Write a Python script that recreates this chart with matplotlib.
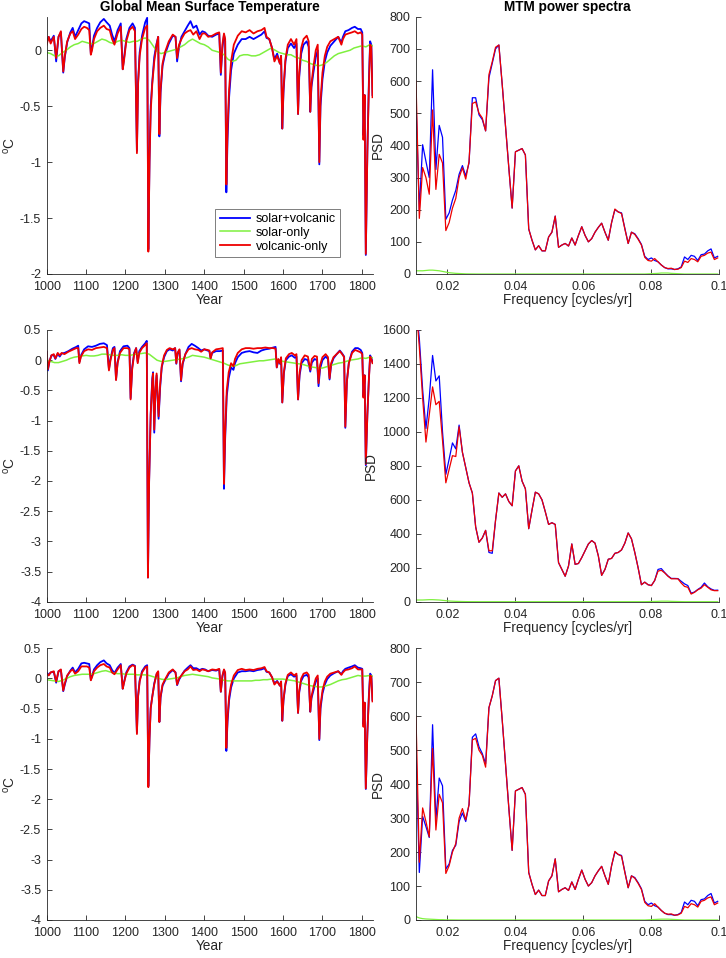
import numpy as np
import matplotlib
matplotlib.use("Agg")
import matplotlib.pyplot as plt
from matplotlib.ticker import FormatStrFormatter, MultipleLocator

plt.rcParams["font.family"] = ["Liberation Sans", "DejaVu Sans"]
plt.rcParams["axes.unicode_minus"] = False
plt.rcParams["mathtext.fontset"] = "custom"
plt.rcParams["mathtext.rm"] = "Liberation Sans"

C_BLUE = "#0000ff"
C_GREEN = "#7ff03f"
C_RED = "#ee0000"
C_AX = "#262626"

# ---------------- time series (deg C) ----------------
# years shared by rows 1 and 3 (red/blue)
yrs_a = [1000, 1005, 1010, 1018, 1024, 1030, 1036, 1042, 1046, 1052, 1060, 1066, 1072, 1080,
         1088, 1095, 1102, 1108, 1112, 1115, 1120, 1128, 1136, 1145, 1152, 1160, 1166, 1172,
         1180, 1188, 1193, 1196, 1202, 1210, 1218, 1224, 1229, 1232, 1236, 1242, 1250, 1255,
         1258, 1261, 1264, 1268, 1273, 1279, 1283, 1286, 1289, 1294, 1300, 1310, 1320, 1327,
         1331, 1336, 1342, 1350, 1358, 1365, 1372, 1380, 1388, 1395, 1402, 1410, 1420, 1430,
         1438, 1442, 1446, 1450, 1453, 1456, 1459, 1463, 1468, 1475, 1485, 1495, 1505, 1515,
         1525, 1535, 1545, 1553, 1558, 1565, 1572, 1578, 1585, 1592, 1595, 1598, 1601, 1606,
         1612, 1620, 1628, 1634, 1638, 1641, 1646, 1652, 1660, 1665, 1669, 1672, 1677, 1683,
         1688, 1692, 1695, 1700, 1706, 1712, 1720, 1730, 1740, 1748, 1752, 1758, 1766, 1775,
         1782, 1790, 1797, 1801, 1804, 1807, 1810, 1814, 1818, 1821, 1824, 1827]

red1 = [0.05, 0.12, 0.06, 0.12, -0.07, 0.12, 0.17, -0.19, -0.05, 0.08, 0.15, 0.17, 0.10, 0.14,
        0.19, 0.21, 0.20, 0.18, -0.04, 0.00, 0.10, 0.17, 0.20, 0.22, 0.19, 0.18, 0.10, 0.05,
        0.15, 0.21, -0.17, -0.10, 0.08, 0.18, 0.21, 0.17, -0.92, -0.30, -0.05, 0.10, 0.20, 0.22,
        -1.80, -1.00, -0.55, -0.30, -0.10, 0.05, 0.12, -0.75, -0.35, -0.12, -0.02, 0.08, 0.14, 0.12,
        -0.07, 0.05, 0.10, 0.15, 0.17, 0.18, 0.14, 0.17, 0.10, 0.15, 0.15, 0.12, 0.13, 0.15,
        0.16, -0.20, 0.05, 0.15, 0.10, -1.20, -0.70, -0.35, -0.10, 0.05, 0.13, 0.17, 0.16, 0.18,
        0.15, 0.17, 0.18, 0.20, 0.12, 0.10, 0.02, -0.10, -0.05, -0.12, -0.05, -0.70, -0.35, -0.08,
        0.05, 0.10, 0.05, 0.10, -0.57, -0.20, 0.02, 0.10, 0.13, 0.08, -0.55, -0.30, -0.15, 0.00,
        0.05, -1.00, -0.45, -0.20, -0.05, 0.03, 0.08, 0.10, 0.12, 0.05, 0.10, 0.14, 0.15, 0.16,
        0.17, 0.15, 0.16, 0.14, -0.80, -0.40, -1.82, -0.90, -0.30, 0.05, 0.03, -0.42]

blue1 = [0.07, 0.12, 0.08, 0.13, -0.10, 0.12, 0.16, -0.20, -0.06, 0.07, 0.16, 0.20, 0.12, 0.18,
         0.24, 0.26, 0.25, 0.24, -0.03, 0.02, 0.13, 0.20, 0.25, 0.28, 0.25, 0.22, 0.14, 0.08,
         0.18, 0.24, -0.17, -0.08, 0.10, 0.20, 0.24, 0.20, -0.90, -0.28, -0.02, 0.13, 0.25, 0.29,
         -1.78, -0.98, -0.50, -0.28, -0.06, 0.06, 0.12, -0.77, -0.38, -0.14, -0.04, 0.06, 0.13, 0.12,
         -0.10, 0.03, 0.12, 0.17, 0.22, 0.26, 0.20, 0.22, 0.14, 0.17, 0.16, 0.13, 0.12, 0.14,
         0.15, -0.22, 0.02, 0.14, 0.08, -1.27, -0.80, -0.42, -0.18, -0.03, 0.05, 0.10, 0.10, 0.12,
         0.10, 0.12, 0.14, 0.17, 0.11, 0.10, 0.02, -0.08, -0.03, -0.12, -0.05, -0.70, -0.38, -0.10,
         0.02, 0.06, 0.02, 0.06, -0.57, -0.24, -0.03, 0.05, 0.08, 0.03, -0.55, -0.33, -0.20, -0.06,
         0.00, -1.02, -0.50, -0.26, -0.10, -0.02, 0.04, 0.08, 0.12, 0.07, 0.12, 0.17, 0.18, 0.20,
         0.21, 0.19, 0.19, 0.16, -0.76, -0.40, -1.83, -0.90, -0.25, 0.08, 0.05, -0.40]

red3 = [0.08, 0.05, 0.10, 0.12, -0.05, 0.12, 0.15, -0.20, -0.08, 0.05, 0.12, 0.15, 0.08, 0.12,
        0.20, 0.20, 0.20, 0.18, -0.03, 0.02, 0.12, 0.18, 0.22, 0.24, 0.20, 0.18, 0.10, 0.07,
        0.15, 0.22, -0.17, -0.08, 0.08, 0.18, 0.22, 0.20, -0.92, -0.30, -0.05, 0.10, 0.18, 0.20,
        -1.80, -1.00, -0.50, -0.30, -0.10, 0.08, 0.12, -0.72, -0.30, -0.10, -0.02, 0.10, 0.15, 0.10,
        -0.10, 0.00, 0.05, 0.12, 0.15, 0.20, 0.14, 0.15, 0.12, 0.15, 0.14, 0.12, 0.15, 0.14,
        0.16, -0.22, 0.05, 0.15, 0.10, -1.15, -0.65, -0.30, -0.10, 0.05, 0.14, 0.16, 0.14, 0.15,
        0.14, 0.16, 0.17, 0.19, 0.12, 0.10, 0.02, -0.10, -0.05, -0.12, -0.05, -0.70, -0.35, -0.08,
        0.06, 0.10, 0.05, 0.08, -0.57, -0.20, 0.00, 0.08, 0.10, 0.06, -0.55, -0.30, -0.15, 0.00,
        0.05, -1.00, -0.45, -0.20, -0.05, 0.03, 0.08, 0.10, 0.12, 0.06, 0.10, 0.14, 0.15, 0.17,
        0.20, 0.15, 0.15, 0.15, -0.80, -0.40, -1.82, -0.90, -0.30, 0.05, 0.03, -0.38]

blue3 = [0.10, 0.06, 0.10, 0.11, -0.07, 0.12, 0.14, -0.21, -0.10, 0.04, 0.13, 0.18, 0.10, 0.16,
         0.25, 0.26, 0.25, 0.24, -0.02, 0.04, 0.15, 0.22, 0.27, 0.30, 0.25, 0.22, 0.14, 0.09,
         0.18, 0.24, -0.17, -0.07, 0.10, 0.20, 0.23, 0.21, -0.90, -0.28, -0.03, 0.12, 0.20, 0.22,
         -1.78, -0.98, -0.48, -0.30, -0.08, 0.07, 0.11, -0.72, -0.32, -0.12, -0.04, 0.08, 0.14, 0.10,
         -0.11, -0.02, 0.05, 0.13, 0.18, 0.22, 0.17, 0.17, 0.14, 0.16, 0.15, 0.12, 0.14, 0.13,
         0.15, -0.22, 0.03, 0.14, 0.08, -1.20, -0.72, -0.36, -0.15, 0.00, 0.10, 0.12, 0.12, 0.13,
         0.12, 0.14, 0.15, 0.17, 0.11, 0.10, 0.02, -0.08, -0.04, -0.12, -0.05, -0.70, -0.37, -0.10,
         0.04, 0.07, 0.03, 0.05, -0.57, -0.23, -0.04, 0.04, 0.06, 0.02, -0.55, -0.33, -0.20, -0.05,
         0.00, -1.02, -0.50, -0.25, -0.10, -0.01, 0.05, 0.09, 0.12, 0.07, 0.12, 0.16, 0.18, 0.20,
         0.22, 0.18, 0.17, 0.16, -0.76, -0.40, -1.83, -0.90, -0.25, 0.08, 0.05, -0.36]

yrs_b = [1000, 1003, 1007, 1012, 1018, 1022, 1028, 1033, 1038, 1045, 1055, 1065, 1075, 1080,
         1083, 1087, 1095, 1105, 1115, 1125, 1135, 1145, 1153, 1158, 1162, 1168, 1172, 1176,
         1180, 1186, 1195, 1205, 1210, 1213, 1217, 1222, 1227, 1231, 1235, 1242, 1250, 1254,
         1257, 1260, 1264, 1268, 1270, 1273, 1276, 1279, 1284, 1288, 1292, 1298, 1305, 1312,
         1320, 1326, 1329, 1332, 1337, 1341, 1345, 1352, 1360, 1368, 1376, 1385, 1392, 1400,
         1408, 1413, 1416, 1420, 1430, 1440, 1447, 1450, 1453, 1457, 1462, 1468, 1474, 1478,
         1485, 1495, 1505, 1515, 1525, 1535, 1545, 1555, 1565, 1575, 1581, 1584, 1588, 1592,
         1595, 1598, 1602, 1607, 1615, 1622, 1630, 1634, 1638, 1642, 1647, 1655, 1663, 1669,
         1673, 1680, 1686, 1690, 1694, 1700, 1708, 1714, 1718, 1722, 1728, 1736, 1744, 1750,
         1755, 1758, 1762, 1767, 1775, 1783, 1790, 1797, 1801, 1804, 1807, 1810, 1814, 1818,
         1821, 1824, 1827]

red2 = [0.14, -0.15, -0.02, 0.08, 0.10, 0.03, 0.12, 0.08, 0.12, 0.10, 0.14, 0.17, 0.20, 0.20,
        -0.05, 0.06, 0.15, 0.18, 0.17, 0.20, 0.21, 0.22, 0.20, -0.17, 0.00, 0.17, 0.20, -0.33,
        -0.05, 0.12, 0.20, 0.20, 0.18, -0.65, -0.15, 0.10, 0.20, -0.05, 0.12, 0.20, 0.25, 0.28,
        -3.60, -2.00, -0.90, -0.35, -0.22, -1.15, -0.50, -0.22, -0.93, -0.40, -0.10, 0.08, 0.17, 0.20,
        0.18, 0.20, -0.05, 0.12, 0.18, -0.33, -0.05, 0.10, 0.18, 0.20, 0.18, 0.17, 0.14, 0.18,
        0.17, 0.16, 0.03, 0.13, 0.18, 0.19, 0.20, -2.05, -1.20, -0.50, -0.20, -0.05, -0.10, 0.02,
        0.12, 0.18, 0.20, 0.20, 0.19, 0.20, 0.20, 0.21, 0.20, 0.20, 0.19, -0.12, 0.02, -0.05,
        0.05, -0.70, -0.20, 0.03, 0.10, 0.12, 0.08, 0.10, -0.65, -0.20, 0.00, 0.08, 0.06, -0.16,
        0.02, 0.07, 0.06, -0.38, -0.08, 0.05, 0.10, 0.05, -0.30, -0.05, 0.05, 0.10, 0.15, 0.10,
        0.05, -1.10, -0.35, -0.05, 0.12, 0.17, 0.15, 0.13, 0.10, -0.62, -0.25, -1.72, -0.90, -0.30,
        0.06, 0.02, -0.05]

blue2 = [0.14, -0.17, -0.02, 0.08, 0.08, 0.02, 0.11, 0.06, 0.11, 0.12, 0.15, 0.19, 0.22, 0.24,
         -0.03, 0.08, 0.18, 0.23, 0.22, 0.24, 0.27, 0.28, 0.25, -0.15, 0.03, 0.20, 0.22, -0.32,
         -0.03, 0.15, 0.23, 0.24, 0.20, -0.63, -0.12, 0.12, 0.20, -0.03, 0.15, 0.22, 0.28, 0.32,
         -3.60, -2.00, -0.88, -0.30, -0.20, -1.20, -0.52, -0.25, -0.97, -0.45, -0.12, 0.05, 0.15, 0.18,
         0.16, 0.20, -0.06, 0.10, 0.17, -0.35, -0.07, 0.10, 0.22, 0.27, 0.24, 0.20, 0.16, 0.18,
         0.16, 0.15, 0.03, 0.12, 0.15, 0.15, 0.16, -2.13, -1.30, -0.60, -0.30, -0.12, -0.16, -0.05,
         0.05, 0.12, 0.14, 0.15, 0.13, 0.12, 0.16, 0.18, 0.19, 0.21, 0.22, -0.12, 0.00, -0.06,
         0.04, -0.70, -0.22, 0.00, 0.06, 0.08, 0.04, 0.06, -0.65, -0.25, -0.05, 0.02, 0.00, -0.19,
         -0.04, 0.02, 0.00, -0.43, -0.14, 0.00, 0.06, 0.02, -0.32, -0.08, 0.03, 0.10, 0.16, 0.11,
         0.06, -1.12, -0.35, -0.04, 0.14, 0.20, 0.20, 0.17, 0.12, -0.60, -0.25, -1.74, -0.90, -0.28,
         0.08, 0.04, -0.03]

# solar-only, every 10 years from 1000 to 1820, then 1827
yrs_g = list(range(1000, 1830, 10)) + [1827]
green1 = [-0.02, -0.03, -0.05, -0.05, -0.02, 0.00, 0.03, 0.05, 0.06, 0.08, 0.07, 0.06, 0.06, 0.08,
          0.10, 0.09, 0.07, 0.06, 0.08, 0.09, 0.08, 0.07, 0.08, 0.08, 0.10, 0.11, 0.09, 0.04,
          -0.01, -0.03, -0.02, -0.01, 0.00, 0.01, 0.03, 0.05, 0.08, 0.10, 0.08, 0.06, 0.05, 0.03,
          0.00, -0.01, -0.02, -0.04, -0.08, -0.10, -0.09, -0.05, -0.04, -0.04, -0.05, -0.05, -0.04, -0.02,
          0.00, 0.02, 0.00, -0.02, -0.03, -0.04, -0.04, -0.06, -0.07, -0.09, -0.10, -0.12, -0.13, -0.14,
          -0.13, -0.11, -0.08, -0.05, -0.03, -0.02, -0.01, 0.00, 0.02, 0.03, 0.04, 0.03, 0.05, 0.04]
green2 = [0.00, -0.02, -0.04, -0.04, -0.02, 0.00, 0.03, 0.05, 0.06, 0.07, 0.08, 0.07, 0.07, 0.08,
          0.10, 0.10, 0.09, 0.08, 0.08, 0.09, 0.08, 0.08, 0.09, 0.10, 0.11, 0.12, 0.10, 0.05,
          0.00, -0.02, -0.02, -0.01, 0.00, 0.01, 0.02, 0.03, 0.05, 0.08, 0.07, 0.06, 0.05, 0.03,
          0.01, -0.01, -0.03, -0.05, -0.08, -0.10, -0.09, -0.06, -0.05, -0.04, -0.03, -0.02, -0.01, -0.01,
          0.00, 0.01, 0.02, 0.00, -0.02, -0.03, -0.04, -0.05, -0.06, -0.07, -0.09, -0.11, -0.12, -0.13,
          -0.13, -0.11, -0.09, -0.07, -0.05, -0.04, -0.02, 0.00, 0.01, 0.02, 0.04, 0.03, 0.05, 0.04]
green3 = [-0.02, -0.03, -0.04, -0.05, -0.03, 0.00, 0.03, 0.05, 0.06, 0.07, 0.07, 0.07, 0.08, 0.10,
          0.12, 0.13, 0.11, 0.09, 0.08, 0.08, 0.07, 0.07, 0.07, 0.06, 0.06, 0.06, 0.05, 0.03,
          0.01, -0.01, -0.02, -0.01, 0.00, 0.01, 0.03, 0.05, 0.06, 0.07, 0.06, 0.05, 0.04, 0.03,
          0.01, 0.00, -0.01, -0.03, -0.04, -0.04, -0.04, -0.04, -0.04, -0.04, -0.04, -0.03, -0.03, -0.02,
          -0.02, -0.01, -0.01, -0.01, -0.01, -0.02, -0.03, -0.04, -0.06, -0.08, -0.10, -0.12, -0.13, -0.14,
          -0.14, -0.12, -0.10, -0.07, -0.04, -0.02, -0.01, 0.01, 0.03, 0.05, 0.04, 0.04, 0.05, 0.04]

# ---------------- MTM spectra ----------------
k_idx = np.arange(11, 103)          # frequency bins k / 1024
freq = k_idx / 1024.0

tail_red_13 = [590, 460, 330, 205, 380, 385, 390, 370, 140, 105, 75, 88, 72, 72,
               115, 130, 180, 83, 90, 95, 87, 112, 90, 120,
               147, 120, 100, 110, 130, 145, 158, 130, 105, 160,
               202, 193, 188, 140, 95, 130, 123, 108, 90, 52,
               42, 40, 48, 38, 28, 20, 17, 18, 14, 15,
               20, 40, 36, 48, 45, 38, 55, 58, 65, 68, 45, 50]
tail_blue_13 = [590, 460, 330, 205, 380, 385, 390, 370, 140, 105, 75, 88, 72, 72,
                115, 130, 180, 83, 90, 95, 87, 112, 90, 120,
                147, 120, 100, 110, 130, 145, 158, 130, 105, 160,
                200, 193, 190, 142, 95, 130, 125, 110, 92, 55,
                45, 50, 42, 38, 28, 20, 16, 16, 14, 16,
                22, 53, 45, 58, 55, 42, 60, 62, 72, 78, 50, 55]

psd1_red = [600, 173, 331, 300, 248, 510, 263, 372, 345, 135, 160, 205, 235, 300, 330, 295,
            350, 530, 535, 500, 485, 445, 620, 660, 705, 712] + tail_red_13
psd1_blue = [540, 200, 402, 350, 300, 635, 325, 462, 425, 170, 190, 230, 260, 310, 337, 305,
             345, 548, 548, 495, 480, 445, 610, 655, 700, 712] + tail_blue_13
psd3_red = [600, 170, 330, 290, 245, 505, 265, 370, 345, 137, 160, 200, 225, 300, 328, 295,
            340, 530, 535, 500, 485, 450, 625, 660, 705, 712] + tail_red_13
psd3_blue = [510, 140, 305, 275, 243, 575, 295, 418, 395, 150, 165, 205, 220, 290, 315, 290,
             340, 538, 548, 510, 490, 460, 625, 660, 705, 712] + tail_blue_13

psd2_red = [1750, 1500, 1200, 940, 1100, 1265, 1160, 1180, 950, 700,
            780, 860, 855, 1030, 880, 790, 700, 640, 440, 350,
            375, 420, 300, 300, 480, 640, 615, 635, 590, 565,
            770, 800, 710, 665, 430, 540, 645, 635, 600, 530,
            455, 465, 455, 230, 190, 150, 210, 340, 220, 225,
            260, 300, 340, 360, 345, 270, 155, 190, 250, 255,
            285, 290, 305, 345, 405, 370, 290, 200, 100, 115,
            100, 95, 125, 180, 185, 170, 150, 135, 135, 135,
            110, 90, 85, 45, 55, 70, 80, 100, 85, 70, 65, 65]
psd2_blue = [1750, 1550, 1250, 1020, 1200, 1450, 1300, 1330, 1000, 750,
             840, 935, 900, 1040, 880, 790, 700, 640, 440, 350,
             375, 420, 290, 285, 480, 640, 615, 635, 590, 565,
             770, 800, 710, 665, 430, 540, 645, 635, 600, 530,
             455, 465, 455, 230, 190, 150, 210, 340, 220, 225,
             260, 300, 340, 360, 345, 270, 155, 190, 250, 255,
             285, 290, 305, 345, 405, 370, 290, 200, 100, 115,
             100, 95, 125, 190, 195, 172, 152, 137, 137, 136,
             120, 105, 95, 50, 57, 72, 85, 110, 88, 75, 67, 68]

psd12_green = ([10, 10, 10, 11, 12, 12, 11, 10, 8, 6, 4, 3, 2, 1.5, 1, 0.5, 0.3, 0.2, 0.1]
               + [0] * 51
               + [0.5, 1, 1.5, 2, 3, 3, 3, 2, 1.5, 1, 0.5]
               + [0] * 11)
psd3_green = ([10, 6, 4, 3, 2.5, 2, 1.5, 1, 1, 0.5, 0.3, 0.2, 0.1]
              + [0] * 57
              + [0.5, 1, 1.5, 2, 2.5, 2.5, 2.5, 2, 1.5, 1, 0.5]
              + [0] * 11)

rows = [
    dict(yrs=yrs_a, red=red1, blue=blue1, green=green1, ylim=(-2, 0.3), yticks=0.5,
         p_red=psd1_red, p_blue=psd1_blue, p_green=psd12_green, pmax=800, pstep=100),
    dict(yrs=yrs_b, red=red2, blue=blue2, green=green2, ylim=(-4, 0.5), yticks=0.5,
         p_red=psd2_red, p_blue=psd2_blue, p_green=psd12_green, pmax=1600, pstep=200),
    dict(yrs=yrs_a, red=red3, blue=blue3, green=green3, ylim=(-4, 0.5), yticks=0.5,
         p_red=psd3_red, p_blue=psd3_blue, p_green=psd3_green, pmax=800, pstep=100),
]

# axes boxes in pixels: (top, bottom)
row_px = [(16.7, 274.0), (330.0, 601.7), (648.3, 920.0)]
W, H = 726.0, 958.0
left_x = (46.7, 372.5)
right_x = (416.0, 719.0)


def style(ax):
    for s in ["top", "right"]:
        ax.spines[s].set_visible(False)
    for s in ["left", "bottom"]:
        ax.spines[s].set_color(C_AX)
        ax.spines[s].set_linewidth(0.6)
    ax.tick_params(direction="in", length=3.5, width=0.6, colors=C_AX, labelsize=9)
    ax.tick_params(axis="x", pad=5)
    ax.tick_params(axis="y", pad=4)


fig = plt.figure(figsize=(W / 100, H / 100), dpi=100)

for i, (r, (top, bot)) in enumerate(zip(rows, row_px)):
    y0 = 1 - bot / H
    h = (bot - top) / H

    # ---- left: temperature ----
    ax = fig.add_axes([left_x[0] / W, y0, (left_x[1] - left_x[0]) / W, h])
    ax.plot(r["yrs"], r["blue"], color=C_BLUE, lw=1.3, label="solar+volcanic")
    ax.plot(yrs_g, r["green"], color=C_GREEN, lw=1.1, label="solar-only")
    ax.plot(r["yrs"], r["red"], color=C_RED, lw=1.3, label="volcanic-only")
    ax.set_xlim(1000, 1827)
    ax.set_ylim(*r["ylim"])
    ax.xaxis.set_major_locator(MultipleLocator(100))
    ax.yaxis.set_major_locator(MultipleLocator(r["yticks"]))
    ax.yaxis.set_major_formatter(FormatStrFormatter("%g"))
    style(ax)
    ax.set_xlabel("Year", fontsize=9.8, color=C_AX, labelpad=0)
    ax.set_ylabel(r"$^{\mathrm{o}}$C", fontsize=9.8, color=C_AX, labelpad=2)
    if i == 0:
        ax.set_title("Global Mean Surface Temperature", fontsize=9.8,
                     fontweight="bold", color="black", pad=4)
        leg = ax.legend(loc="lower left", bbox_to_anchor=(0.517, 0.066),
                        fontsize=9, frameon=True, fancybox=False,
                        handlelength=2.4, borderpad=0.35, labelspacing=0.15,
                        handletextpad=0.5, borderaxespad=0)
        leg.get_frame().set_edgecolor("#444444")
        leg.get_frame().set_linewidth(0.6)

    # ---- right: MTM spectra ----
    ax2 = fig.add_axes([right_x[0] / W, y0, (right_x[1] - right_x[0]) / W, h])
    ax2.plot(freq, r["p_blue"], color=C_BLUE, lw=0.9)
    ax2.plot(freq, r["p_green"], color=C_GREEN, lw=0.9)
    ax2.plot(freq, r["p_red"], color=C_RED, lw=0.9)
    ax2.set_xlim(11 / 1024.0, 0.1)
    ax2.set_ylim(0, r["pmax"])
    ax2.set_xticks([0.02, 0.04, 0.06, 0.08, 0.1])
    ax2.xaxis.set_major_formatter(FormatStrFormatter("%g"))
    ax2.yaxis.set_major_locator(MultipleLocator(r["pstep"]))
    style(ax2)
    ax2.set_xlabel("Frequency [cycles/yr]", fontsize=9.8, color=C_AX, labelpad=0)
    ax2.set_ylabel("PSD", fontsize=9.8, color=C_AX, labelpad=3)
    if i == 0:
        ax2.set_title("MTM power spectra", fontsize=9.8, fontweight="bold",
                      color="black", pad=4)

fig.savefig("out.png", dpi=100)
